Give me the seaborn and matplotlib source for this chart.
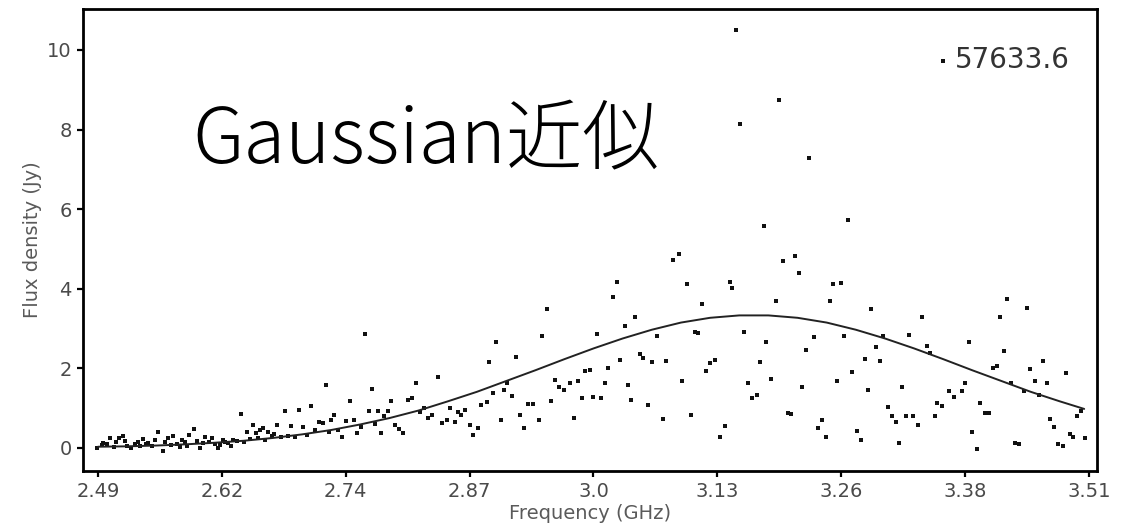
import numpy as np
import pandas as pd
import matplotlib
matplotlib.use("Agg")
import matplotlib.pyplot as plt
import seaborn as sns

# ---------------- data ----------------
freq = [
 2.489, 2.494, 2.495, 2.502, 2.507, 2.512, 2.516, 2.520, 2.524, 2.528, 2.531, 2.536, 2.541, 2.546,
 2.552, 2.557, 2.562, 2.567, 2.571, 2.574, 2.577, 2.580, 2.584, 2.589, 2.595, 2.600, 2.604, 2.607,
 2.610, 2.614, 2.619, 2.624, 2.629, 2.633, 2.637, 2.643, 2.646, 2.650, 2.653, 2.657, 2.660, 2.665,
 2.669, 2.674, 2.678, 2.682, 2.686, 2.689, 2.693, 2.697, 2.701, 2.705, 2.709, 2.713, 2.717, 2.722,
 2.725, 2.728, 2.730, 2.733, 2.737, 2.741, 2.745, 2.749, 2.753, 2.757, 2.761, 2.765, 2.769, 2.772,
 2.775, 2.778, 2.781, 2.784, 2.789, 2.792, 2.796, 2.800, 2.804, 2.809, 2.813, 2.817, 2.821, 2.826,
 2.830, 2.834, 2.840, 2.844, 2.849, 2.852, 2.857, 2.861, 2.864, 2.868, 2.873, 2.876, 2.881, 2.884,
 2.890, 2.892, 2.897, 2.900, 2.905, 2.908, 2.911, 2.916, 2.920, 2.924, 2.928, 2.933, 2.938, 2.944,
 2.947, 2.952, 2.956, 2.960, 2.965, 2.970, 2.976, 2.980, 2.984, 2.988, 2.991, 2.996, 3.000, 3.004,
 3.008, 3.012, 3.015, 3.020, 3.024, 3.027, 3.032, 3.036, 3.039, 3.043, 3.048, 3.051, 3.056, 3.060,
 3.065, 3.072, 3.075, 3.082, 3.088, 3.091, 3.096, 3.100, 3.104, 3.108, 3.112, 3.116, 3.120, 3.125,
 3.130, 3.135, 3.140, 3.143, 3.147, 3.151, 3.155, 3.159, 3.163, 3.168, 3.171, 3.175, 3.178, 3.183,
 3.188, 3.191, 3.195, 3.200, 3.203, 3.207, 3.211, 3.215, 3.219, 3.222, 3.227, 3.231, 3.235, 3.239,
 3.243, 3.247, 3.251, 3.255, 3.258, 3.262, 3.266, 3.271, 3.275, 3.279, 3.283, 3.286, 3.291, 3.295,
 3.298, 3.303, 3.307, 3.311, 3.314, 3.318, 3.322, 3.325, 3.329, 3.334, 3.338, 3.343, 3.346, 3.351,
 3.354, 3.359, 3.366, 3.371, 3.379, 3.382, 3.386, 3.390, 3.395, 3.398, 3.403, 3.407, 3.411, 3.415,
 3.418, 3.422, 3.426, 3.430, 3.434, 3.438, 3.443, 3.446, 3.449, 3.454, 3.458, 3.463, 3.467, 3.470,
 3.474, 3.478, 3.483, 3.486, 3.490, 3.494, 3.498, 3.502, 3.506,
 2.499, 2.509, 2.518, 2.533, 2.539, 2.549, 2.559, 2.565, 2.582, 2.592, 2.598, 2.616, 2.621,
 2.627, 2.640, 2.655, 2.662, 2.671,
]
flux = [
 0.00, 0.07, 0.12, 0.26, 0.03, 0.24, 0.30, 0.05, -0.01, 0.10, 0.16, 0.22, 0.12, 0.06,
 0.41, -0.08, 0.26, 0.31, 0.10, 0.03, 0.20, 0.14, 0.33, 0.47, -0.01, 0.28, 0.15, 0.24,
 0.10, -0.01, 0.20, 0.12, 0.20, 0.18, 0.84, 0.39, 0.22, 0.58, 0.37, 0.45, 0.49, 0.39,
 0.30, 0.58, 0.28, 0.92, 0.30, 0.56, 0.28, 0.95, 0.52, 0.33, 1.06, 0.45, 0.66, 0.62,
 1.57, 0.40, 0.70, 0.82, 0.45, 0.28, 0.68, 1.17, 0.70, 0.38, 0.52, 2.87, 0.93, 1.48,
 0.60, 0.94, 0.37, 0.81, 0.93, 1.18, 0.58, 0.47, 0.37, 1.21, 1.26, 1.62, 0.91, 1.00,
 0.75, 0.82, 1.79, 0.62, 0.70, 1.00, 0.66, 0.91, 0.83, 0.95, 0.58, 0.33, 0.49, 1.08,
 1.16, 2.15, 1.37, 2.67, 0.69, 1.46, 1.62, 1.31, 2.29, 0.83, 0.49, 1.10, 1.10, 0.70,
 2.81, 3.48, 1.19, 1.71, 1.54, 1.46, 1.62, 0.75, 1.67, 1.25, 1.94, 1.96, 1.29, 2.87,
 1.25, 1.62, 2.00, 3.80, 4.16, 2.21, 3.07, 1.58, 1.21, 3.30, 2.36, 2.25, 1.08, 2.15,
 2.80, 0.73, 2.18, 4.71, 4.87, 1.69, 4.11, 0.83, 2.92, 2.88, 3.62, 1.94, 2.14, 2.21,
 0.28, 0.56, 4.18, 4.03, 10.51, 8.13, 2.92, 1.64, 1.25, 1.33, 2.15, 5.58, 2.66, 1.73,
 3.68, 8.74, 4.69, 0.87, 0.85, 4.83, 4.39, 1.52, 2.46, 7.28, 2.78, 0.49, 0.70, 0.28,
 3.68, 4.11, 1.67, 4.15, 2.80, 5.72, 1.92, 0.43, 0.20, 2.23, 1.46, 3.48, 2.53, 2.19,
 2.80, 1.04, 0.79, 0.66, 0.13, 1.52, 0.80, 2.84, 0.80, 0.58, 3.30, 2.55, 2.38, 0.80,
 1.13, 1.05, 1.44, 1.29, 1.44, 1.62, 2.65, 0.39, -0.03, 1.14, 0.89, 0.89, 2.00, 2.06,
 3.30, 2.44, 3.74, 1.62, 0.13, 0.10, 1.42, 3.51, 1.98, 1.67, 1.33, 2.19, 1.62, 0.72,
 0.52, 0.09, 0.05, 1.89, 0.35, 0.28, 0.79, 0.94, 0.24,
 0.10, 0.14, 0.18, 0.05, 0.09, 0.20, 0.14, 0.08, 0.06, 0.18, 0.12, 0.08, 0.15,
 0.06, 0.15, 0.25, 0.20, 0.36,
]

# Gaussian approximation curve
fit_freq = [2.49, 2.52, 2.55, 2.58, 2.61, 2.64, 2.67, 2.70, 2.73, 2.76, 2.79, 2.82, 2.85,
            2.88, 2.91, 2.94, 2.97, 3.00, 3.03, 3.06, 3.09, 3.12, 3.15, 3.18, 3.21, 3.24,
            3.27, 3.30, 3.33, 3.36, 3.39, 3.42, 3.45, 3.48, 3.505]
fit_flux = [0.03, 0.04, 0.06, 0.09, 0.13, 0.18, 0.25, 0.34, 0.45, 0.59, 0.75, 0.94, 1.17,
            1.41, 1.68, 1.95, 2.23, 2.50, 2.75, 2.97, 3.15, 3.27, 3.33, 3.33, 3.27, 3.15,
            2.97, 2.75, 2.50, 2.23, 1.95, 1.68, 1.41, 1.17, 0.98]

series_label = "57633.6"
xtick_labels = ["2.49", "2.62", "2.74", "2.87", "3.0", "3.13", "3.26", "3.38", "3.51"]
ytick_values = [0, 2, 4, 6, 8, 10]
title_text = "Gaussian近似"

# ---------------- plot ----------------
sns.set_theme(style="white")
plt.rcParams["font.family"] = ["DejaVu Sans"]

df = pd.DataFrame({"Frequency (GHz)": freq, "Flux density (Jy)": flux})
fit_df = pd.DataFrame({"f": fit_freq, "v": fit_flux})

fig = plt.figure(figsize=(11.27, 5.27), dpi=100)
ax = fig.add_axes([83 / 1127, 1 - 471 / 527, (1097 - 83) / 1127, (471 - 9) / 527])

sns.scatterplot(data=df, x="Frequency (GHz)", y="Flux density (Jy)", ax=ax,
                marker="s", s=9, color="#111111", linewidth=0, label=series_label)
sns.lineplot(data=fit_df, x="f", y="v", ax=ax, color="#222222", linewidth=1.4,
             legend=False)

ax.set_xlim(2.4746, 3.5182)
ax.set_ylim(-0.58, 11.03)

xt = np.linspace(float(xtick_labels[0]), float(xtick_labels[-1]), len(xtick_labels))
ax.set_xticks(xt)
ax.set_xticklabels(xtick_labels)
ax.set_yticks(ytick_values)
ax.set_yticklabels([str(v) for v in ytick_values])

ax.tick_params(axis="both", direction="out", length=4, width=1.6, color="black",
               labelsize=14, labelcolor="#4a4a4a", pad=4, bottom=True, left=True)
for sp in ax.spines.values():
    sp.set_color("black")
    sp.set_linewidth(2.0)

ax.set_xlabel("Frequency (GHz)", fontsize=14, color="#5a5a5a", labelpad=2)
ax.set_ylabel("Flux density (Jy)", fontsize=14, color="#5a5a5a", labelpad=4)

ax.text(0.1075, 0.6667, title_text, transform=ax.transAxes, ha="left", va="baseline",
        fontsize=55, color="black", family=["Noto Sans CJK JP", "DejaVu Sans"],
        fontweight="light")

leg = ax.legend(loc="center right", bbox_to_anchor=(0.9734, 0.889), frameon=False,
                fontsize=20, handlelength=0.5, handletextpad=0.2, borderpad=0,
                borderaxespad=0, markerscale=1.1)
for t in leg.get_texts():
    t.set_color("#333333")

fig.savefig("out.png", dpi=100)
